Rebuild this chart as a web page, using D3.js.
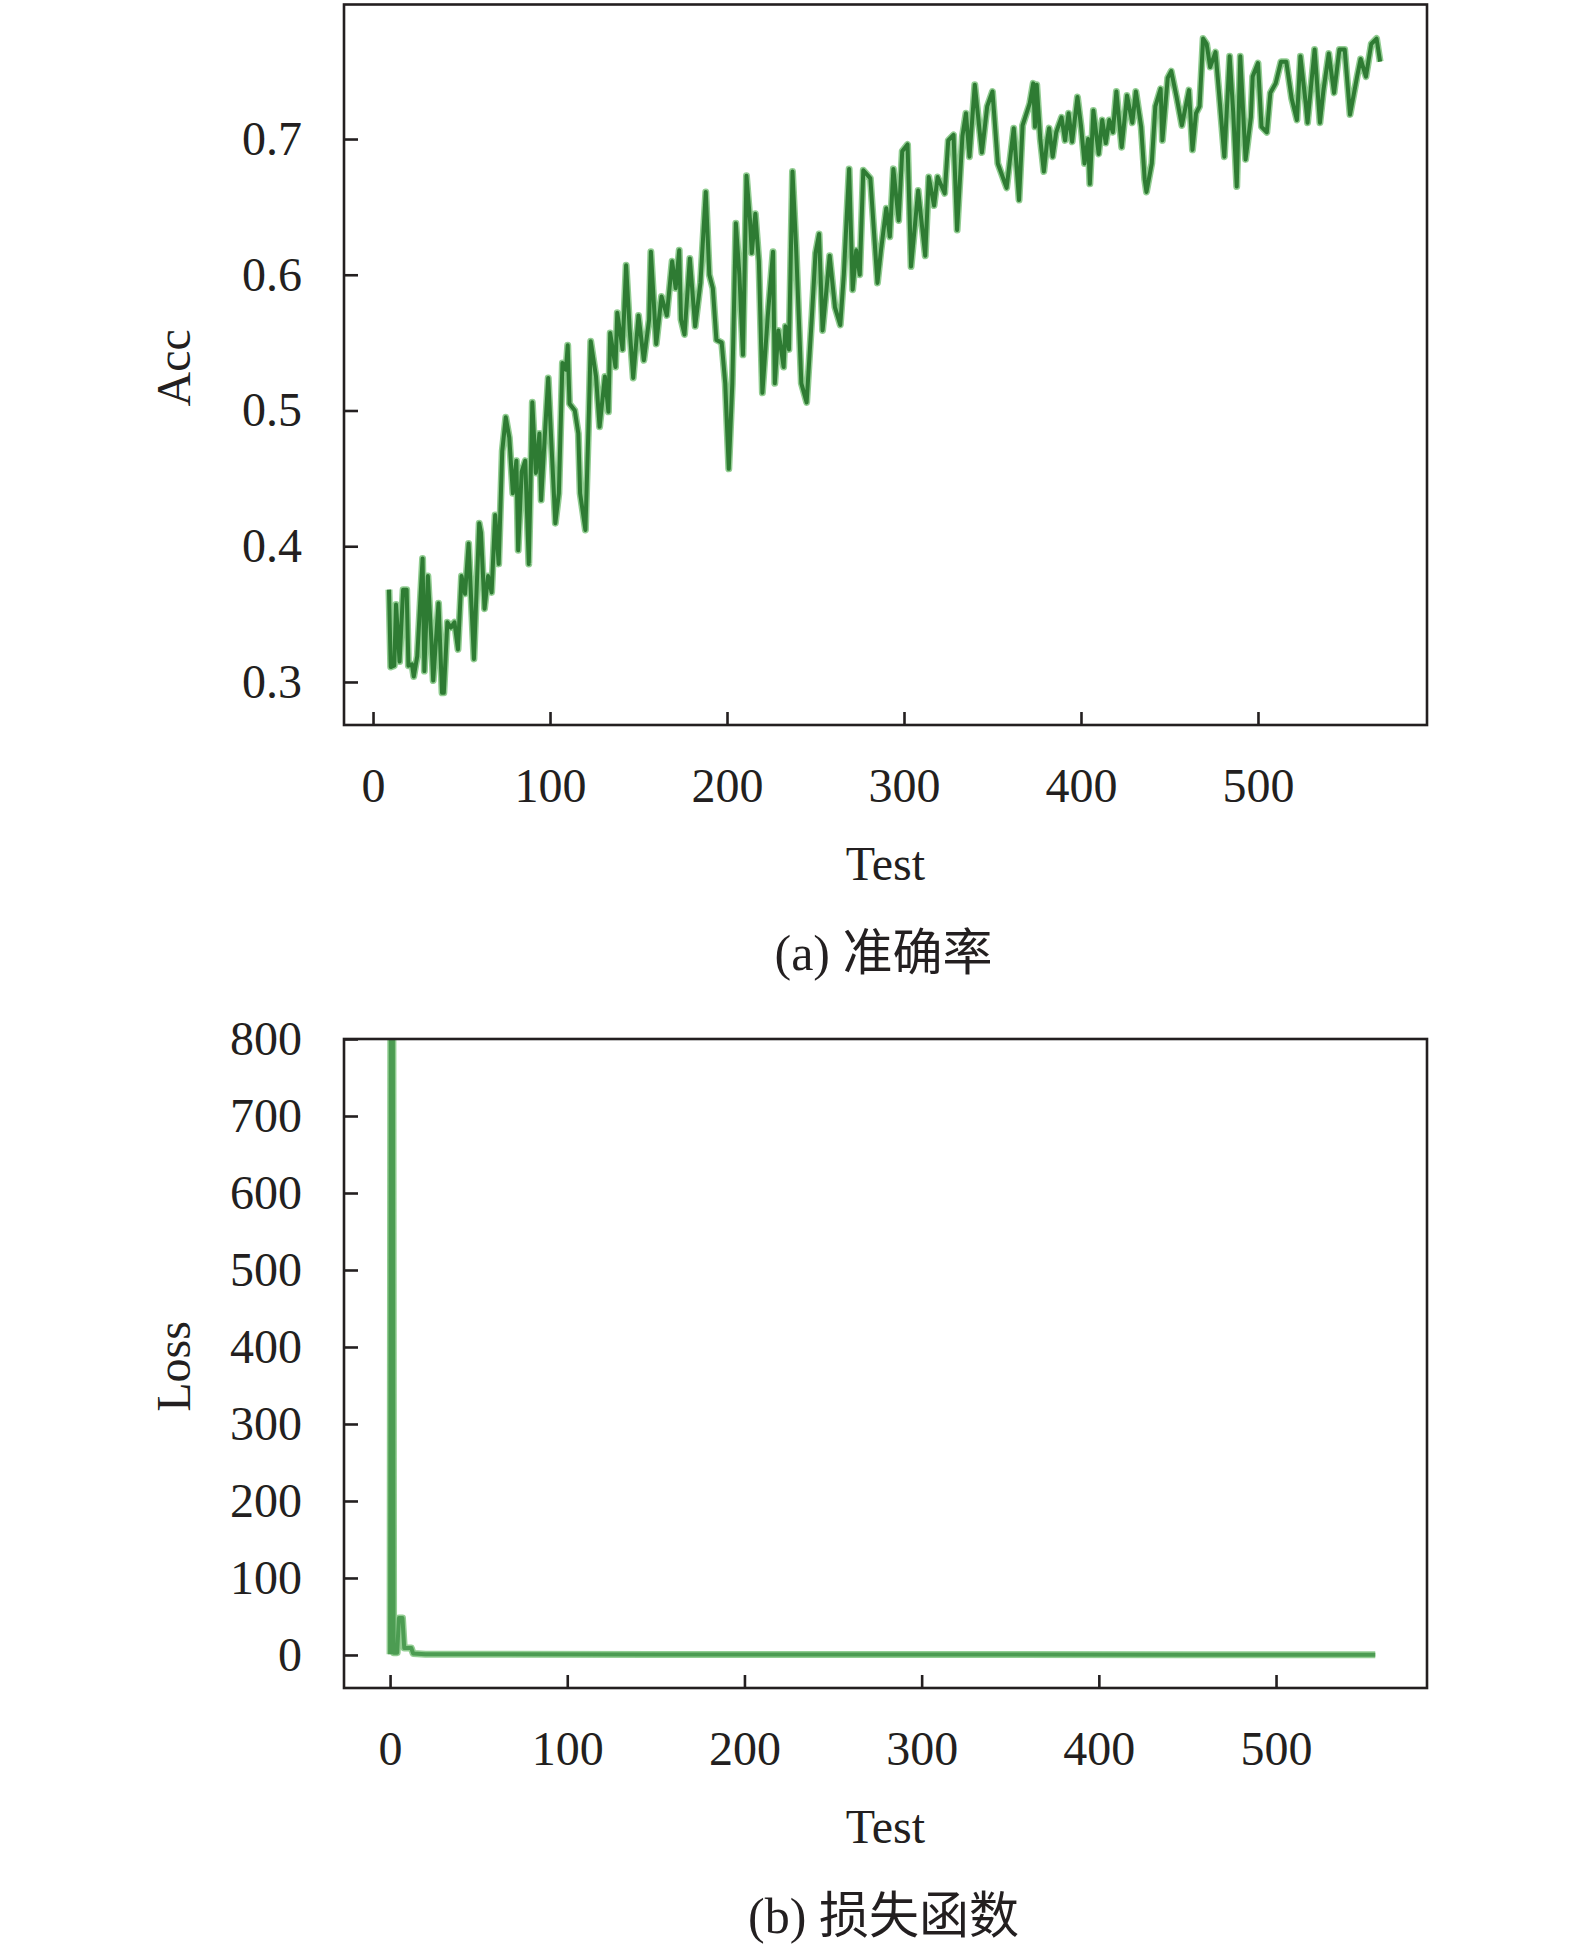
<!DOCTYPE html>
<html>
<head>
<meta charset="utf-8">
<script src="https://cdn.jsdelivr.net/npm/d3@7/dist/d3.min.js"></script>
<style>
  body { margin: 0; background: #fff; }
  svg text { font-family: "Liberation Serif", "Times New Roman", "Noto Sans CJK SC", serif; fill: #231f20; }
</style>
</head>
<body>
<svg id="chart" width="1575" height="1957"></svg>
<script>
// Accuracy per test step: [test, acc].
var accPoints = [
  [9,0.368],[10,0.311],[12,0.312],[13,0.357],[15,0.315],[17,0.368],[19,0.368],[20,0.312],
  [22,0.313],[23,0.304],[25,0.319],[28,0.391],[29,0.308],[31,0.378],[33,0.330],[34,0.301],
  [37,0.358],[39,0.292],[40,0.292],[42,0.344],[44,0.340],[46,0.344],[48,0.324],[50,0.378],
  [52,0.365],[54,0.402],[57,0.317],[60,0.417],[61,0.410],[63,0.354],[65,0.378],[67,0.366],
  [69,0.423],[71,0.387],[73,0.470],[75,0.495],[77,0.480],[79,0.439],[81,0.463],[82,0.397],
  [84,0.455],[86,0.463],[88,0.387],[90,0.506],[92,0.454],[94,0.483],[95,0.434],[97,0.480],
  [99,0.524],[101,0.470],[103,0.417],[105,0.439],[107,0.535],[109,0.530],[110,0.548],[111,0.505],
  [114,0.500],[116,0.483],[117,0.439],[120,0.412],[122,0.500],[123,0.551],[126,0.525],[128,0.488],
  [131,0.525],[133,0.499],[134,0.557],[137,0.532],[138,0.572],[141,0.545],[143,0.607],[145,0.560],
  [147,0.524],[150,0.570],[153,0.537],[156,0.567],[157,0.617],[160,0.549],[163,0.584],[166,0.570],
  [169,0.610],[171,0.590],[173,0.618],[174,0.567],[176,0.556],[179,0.612],[182,0.562],[185,0.594],
  [188,0.661],[190,0.600],[192,0.590],[194,0.552],[197,0.550],[199,0.520],[201,0.457],[203,0.520],
  [205,0.638],[207,0.600],[209,0.541],[211,0.673],[213,0.640],[214,0.616],[216,0.645],[218,0.610],
  [220,0.513],[223,0.569],[226,0.617],[227,0.520],[229,0.559],[232,0.532],[233,0.562],[235,0.545],
  [237,0.676],[239,0.621],[242,0.520],[245,0.506],[248,0.570],[250,0.616],[252,0.630],[254,0.559],
  [258,0.614],[261,0.576],[264,0.563],[266,0.600],[269,0.678],[271,0.589],[273,0.618],[275,0.600],
  [277,0.677],[281,0.671],[285,0.594],[287,0.618],[290,0.649],[292,0.628],[294,0.678],[297,0.640],
  [299,0.691],[302,0.696],[304,0.606],[308,0.662],[312,0.614],[314,0.672],[317,0.651],[319,0.672],
  [323,0.660],[325,0.699],[328,0.703],[330,0.633],[333,0.702],[335,0.719],[337,0.687],[340,0.740],
  [344,0.690],[347,0.724],[350,0.735],[353,0.682],[358,0.664],[362,0.708],[365,0.655],[367,0.710],
  [371,0.726],[373,0.741],[374,0.709],[375,0.740],[377,0.700],[379,0.676],[381,0.700],[382,0.708],
  [384,0.687],[386,0.705],[389,0.716],[391,0.699],[393,0.719],[395,0.698],[398,0.731],[400,0.710],
  [402,0.682],[404,0.700],[405,0.667],[407,0.721],[410,0.689],[412,0.714],[414,0.697],[416,0.714],
  [418,0.705],[420,0.735],[423,0.694],[426,0.732],[429,0.712],[431,0.735],[434,0.709],[436,0.670],
  [437,0.661],[440,0.682],[442,0.724],[445,0.737],[446,0.699],[449,0.745],[451,0.750],[454,0.731],
  [457,0.710],[461,0.736],[463,0.692],[465,0.719],[467,0.724],[469,0.774],[471,0.770],[473,0.753],
  [476,0.764],[478,0.734],[481,0.687],[484,0.761],[486,0.720],[488,0.665],[490,0.761],[493,0.685],
  [496,0.716],[497,0.746],[500,0.756],[502,0.709],[505,0.705],[507,0.734],[510,0.741],[513,0.757],
  [516,0.757],[519,0.730],[522,0.714],[524,0.761],[527,0.726],[528,0.712],[532,0.766],[535,0.712],
  [537,0.736],[540,0.763],[543,0.734],[546,0.766],[549,0.766],[552,0.718],[556,0.746],[558,0.759],
  [561,0.746],[564,0.770],[567,0.774],[569,0.757]
];

// Loss per test step: [test, loss]. The first spike runs off the top of the frame.
var lossPoints = [
  [0,1],[1,2000],[2,3],[4,3],[5,48],[7,48],[8,9],[12,9],[13,2],[20,1],
  [60,0.8],[150,0.6],[300,0.5],[450,0.4],[556,0.4]
];

var testTicks = [0, 100, 200, 300, 400, 500];
var accTicks = [0.3, 0.4, 0.5, 0.6, 0.7];
var lossTicks = [0, 100, 200, 300, 400, 500, 600, 700, 800];
var yTitles = ['Acc', 'Loss'];
var xTitle = 'Test';
var captions = ['(a) 准确率', '(b) 损失函数'];

/**
 * One framed panel: box, inward ticks, labels, titles and the green line.
 */
function Panel(svg, options) {
  this.svg_ = svg;
  this.options_ = options;

  this.x_ = d3.scaleLinear()
      .domain(options.xDomain)
      .range([options.left, options.right]);
  this.y_ = d3.scaleLinear()
      .domain(options.yDomain)
      .range([options.bottom, options.top]);
}

Panel.prototype.render = function(points) {
  this.drawLine(points);
  this.drawAxes();
  this.drawFrame();
  this.drawTexts();
};

Panel.prototype.drawAxes = function() {
  var o = this.options_;
  var ink = '#231f20';

  var xAxis = d3.axisBottom(this.x_)
      .tickValues(testTicks)
      .tickFormat(d3.format('d'))
      .tickSizeInner(-13)
      .tickSizeOuter(0)
      .tickPadding(43);

  var yAxis = d3.axisLeft(this.y_)
      .tickValues(o.yTicks)
      .tickFormat(o.yFormat)
      .tickSizeInner(-14)
      .tickSizeOuter(0)
      .tickPadding(42);

  var gx = this.svg_.append('g')
      .attr('transform', 'translate(0,' + o.bottom + ')')
      .call(xAxis);
  var gy = this.svg_.append('g')
      .attr('transform', 'translate(' + o.left + ',0)')
      .call(yAxis);

  [gx, gy].forEach(function(g) {
    g.select('.domain').remove();
    g.attr('font-family', null).attr('font-size', null);
    g.selectAll('line').attr('stroke', ink).attr('stroke-width', 2.6);
    g.selectAll('text').style('font-size', '48px').attr('fill', ink);
  });
};

Panel.prototype.drawFrame = function() {
  var o = this.options_;
  this.svg_.append('rect')
      .attr('x', o.left)
      .attr('y', o.top)
      .attr('width', o.right - o.left)
      .attr('height', o.bottom - o.top)
      .attr('fill', 'none')
      .attr('stroke', '#231f20')
      .attr('stroke-width', 2.6);
};

Panel.prototype.drawLine = function(points) {
  var o = this.options_;
  var x = this.x_, y = this.y_;

  this.svg_.append('clipPath')
      .attr('id', o.id + '-clip')
    .append('rect')
      .attr('x', o.left)
      .attr('y', o.top)
      .attr('width', o.right - o.left)
      .attr('height', o.bottom - o.top);

  var line = d3.line()
      .x(function(d) { return x(d[0]); })
      .y(function(d) { return y(d[1]); });

  var g = this.svg_.append('g')
      .attr('clip-path', 'url(#' + o.id + '-clip)');

  // soft light edge under a darker core, like the rasterised original
  g.append('path')
      .datum(points)
      .attr('d', line)
      .attr('fill', 'none')
      .attr('stroke', '#92cd92')
      .attr('stroke-width', 7)
      .attr('stroke-linejoin', 'round');
  g.append('path')
      .datum(points)
      .attr('d', line)
      .attr('fill', 'none')
      .attr('stroke', o.lineColor)
      .attr('stroke-width', 4)
      .attr('stroke-linejoin', 'round');
};

Panel.prototype.drawTexts = function() {
  var o = this.options_;
  var cx = (o.left + o.right) / 2;

  this.svg_.append('text')
      .attr('transform', 'translate(190,' + ((o.top + o.bottom) / 2 + 3) + ') rotate(-90)')
      .attr('text-anchor', 'middle')
      .style('font-size', '48px')
      .text(o.yTitle);

  this.svg_.append('text')
      .attr('x', cx)
      .attr('y', o.bottom + 155)
      .attr('text-anchor', 'middle')
      .style('font-size', '48px')
      .text(xTitle);

  this.svg_.append('text')
      .attr('x', cx - 2)
      .attr('y', o.bottom + 245)
      .attr('text-anchor', 'middle')
      .style('font-size', '50px')
      .text(o.caption);
};

var svg = d3.select('#chart');

new Panel(svg, {
  id: 'acc',
  left: 344, right: 1427, top: 4.5, bottom: 725,
  xDomain: [-16.4, 595.5],
  yDomain: [0.2683, 0.7991],
  yTicks: accTicks,
  yFormat: d3.format('.1f'),
  yTitle: yTitles[0],
  caption: captions[0],
  lineColor: '#2e7b33'
}).render(accPoints);

new Panel(svg, {
  id: 'loss',
  left: 344, right: 1427, top: 1039, bottom: 1688,
  xDomain: [-26, 585.2],
  yDomain: [-42.9, 800],
  yTicks: lossTicks,
  yFormat: d3.format('d'),
  yTitle: yTitles[1],
  caption: captions[1],
  lineColor: '#4c9c52'
}).render(lossPoints);
</script>
</body>
</html>
